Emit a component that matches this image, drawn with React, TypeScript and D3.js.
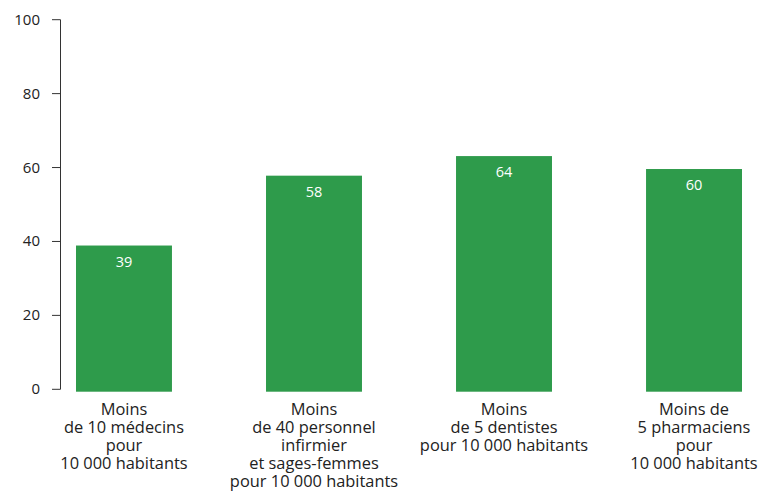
import React from "react";
import * as d3 from "d3";

const categories: string[][] = [
  ["Moins", "de 10 médecins", "pour", "10 000 habitants"],
  ["Moins", "de 40 personnel", "infirmier", "et sages-femmes", "pour 10 000 habitants"],
  ["Moins", "de 5 dentistes", "pour 10 000 habitants"],
  ["Moins de", "5 pharmaciens", "pour", "10 000 habitants"],
];
const values: number[] = [38.9, 57.8, 63.1, 59.6];
const valueLabels: string[] = ["39", "58", "64", "60"];
const yTicks: number[] = [0, 20, 40, 60, 80, 100];

const W = 774;
const H = 492;
const FONT = "'Open Sans', 'Noto Sans', sans-serif";
const GREEN = "#2E9B4B";

export default function App() {
  const y = d3.scaleLinear().domain([0, 100]).range([389.3, 19.7]);
  const x = d3
    .scaleBand<number>()
    .domain(d3.range(values.length))
    .range([60, 758])
    .paddingInner(0.495)
    .paddingOuter(0.0842);

  return (
    <svg
      width={W}
      height={H}
      style={{ position: "absolute", left: 0, top: 0, background: "#fff" }}
      fontFamily={FONT}
    >
      {values.map((v, i) => (
        <g key={i}>
          <rect
            x={x(i)!}
            y={y(v)}
            width={x.bandwidth()}
            height={y(0) - y(v) + 2.4}
            fill={GREEN}
          />
          <text
            x={x(i)! + x.bandwidth() / 2}
            y={y(v) + 21}
            textAnchor="middle"
            fill="#fff"
            fontSize={14.5}
          >
            {valueLabels[i]}
          </text>
          <text
            x={x(i)! + x.bandwidth() / 2}
            y={414.5}
            textAnchor="middle"
            fill="#222"
            fontSize={16.4}
          >
            {categories[i].map((line, j) => (
              <tspan key={j} x={x(i)! + x.bandwidth() / 2} dy={j === 0 ? 0 : 18.1}>
                {line}
              </tspan>
            ))}
          </text>
        </g>
      ))}
      <line x1={60.5} x2={60.5} y1={y(100)} y2={y(0)} stroke="#333" strokeWidth={1} />
      {yTicks.map((t) => (
        <g key={t}>
          <line x1={52} x2={60.5} y1={y(t)} y2={y(t)} stroke="#333" strokeWidth={1} />
          <text x={40} y={y(t) + 5} textAnchor="end" fill="#222" fontSize={15}>
            {t}
          </text>
        </g>
      ))}
    </svg>
  );
}
